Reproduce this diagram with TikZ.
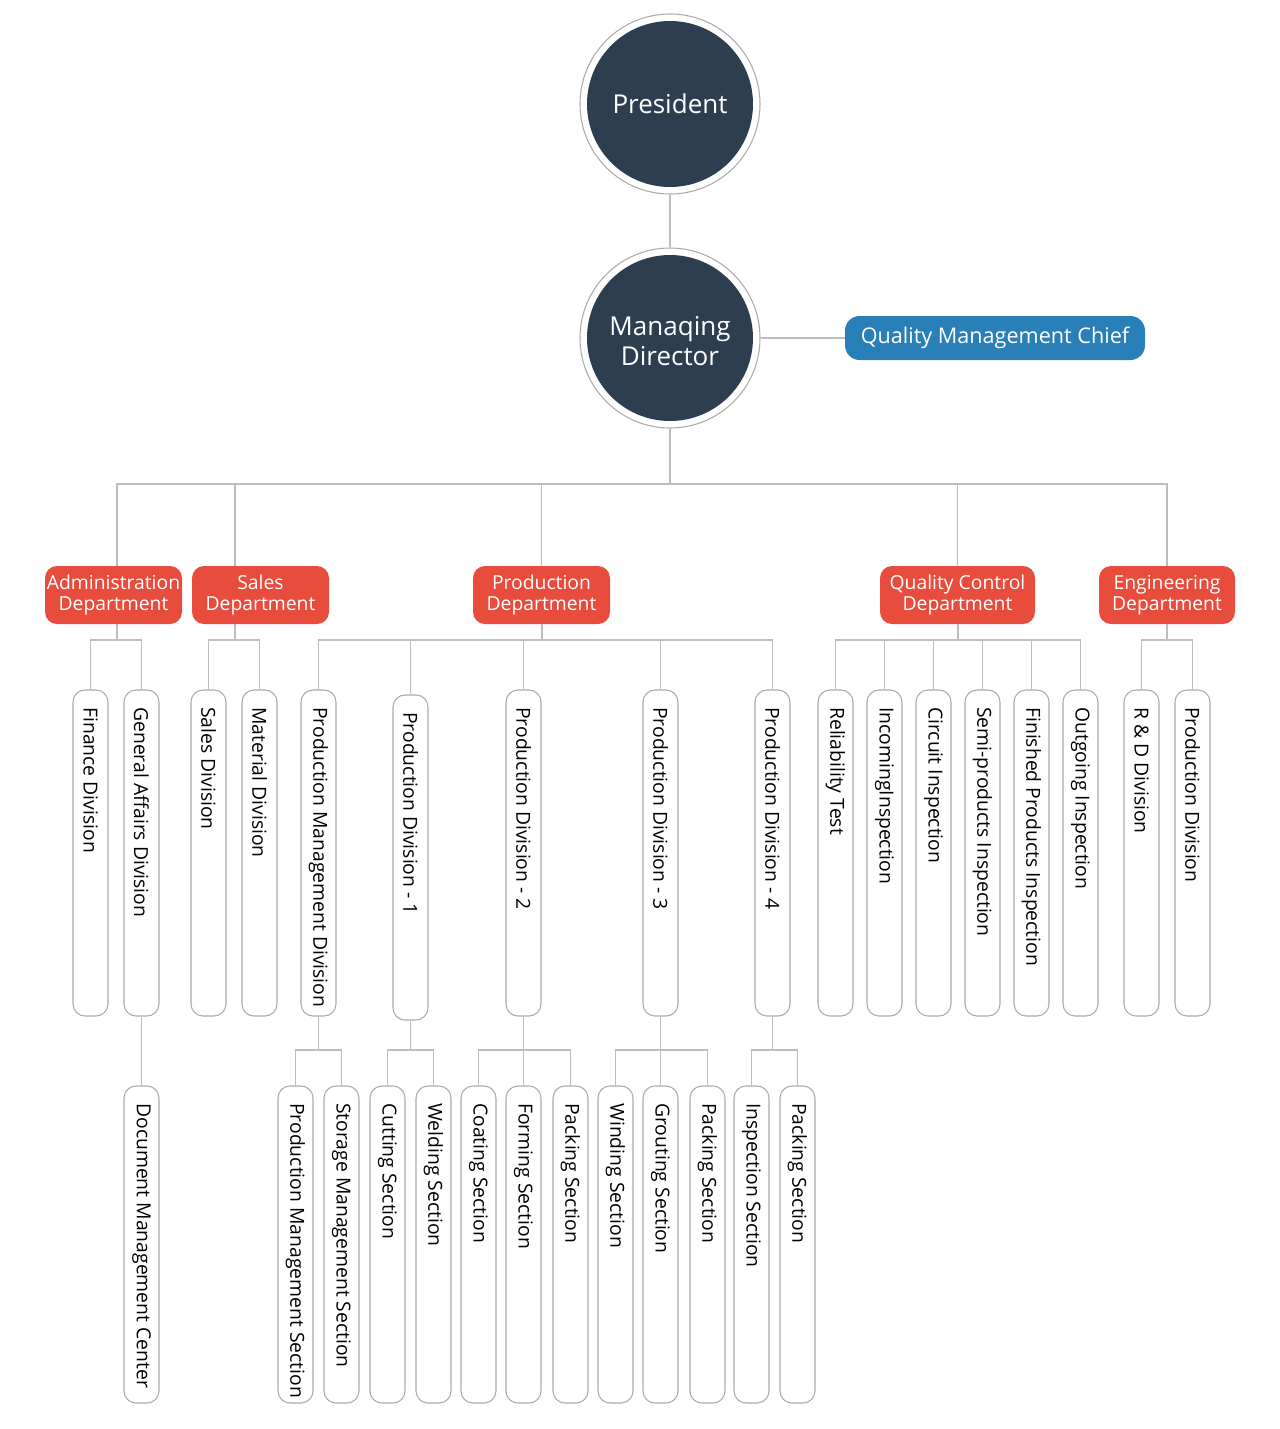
\documentclass[tikz,border=0pt]{standalone}
\usepackage{fontspec}
\setmainfont{Open Sans}
\usetikzlibrary{fit}
\definecolor{navy}{HTML}{2C3E50}
\definecolor{redd}{HTML}{E74C3C}
\definecolor{bluee}{HTML}{2980B9}
\definecolor{linegray}{HTML}{BDBDBD}
\definecolor{boxgray}{HTML}{ABABAB}
\newcommand\orgleaf[5]{% name, cx, top, bottom, text
  \node[leafbox, fit={(#2-17.5,#3) (#2+17.5,#4)}] (#1) {};
  \node[leaftext] at (#2,#3+17) {#5};
}
\begin{document}
\begin{tikzpicture}[x=0.75pt,y=-0.75pt,
  conn/.style={draw=linegray, line width=1.1pt},
  ring/.style={circle, draw=boxgray, line width=0.8pt, minimum size=135pt, inner sep=0},
  disc/.style={circle, fill=navy, minimum size=124.5pt, inner sep=0},
  disctext/.style={text=white, inner sep=0, align=center,
     font=\fontsize{19.5pt}{22.5pt}\selectfont},
  dept/.style={rectangle, rounded corners=9pt, fill=redd, text=white, inner sep=0, align=center,
     font=\fontsize{14.5pt}{15.8pt}\selectfont},
  chief/.style={rectangle, rounded corners=11pt, fill=bluee, text=white, inner sep=0,
     minimum width=225pt, minimum height=33pt, font=\fontsize{16.2pt}{18pt}\selectfont},
  leafbox/.style={rectangle, rounded corners=9pt, draw=boxgray, line width=0.8pt, inner sep=0},
  leaftext/.style={rotate=-90, anchor=west, inner sep=0, font=\fontsize{14.5pt}{16pt}\selectfont}
]
\useasboundingbox (0,0) rectangle (1280,1429);
% top
\node[ring] (pres) at (670,104) {};
\node[disc] (presd) at (pres) {};
\node[disctext] (prest) at (pres) {President};
\node[ring] (md) at (670,338) {};
\node[disc] (mdd) at (md) {};
\node[disctext] (mdt) at (670,341) {Manaqing\\Director};
\node[chief] (qmc) at (995,338) {Quality Management Chief};
\draw[conn] (pres.south) -- (md.north);
\draw[conn] (md.east) -- (qmc.west);
% departments
\node[dept, minimum width=102.75pt, minimum height=43.5pt] (adm) at (113.5,595) {Administration\\Department};
\node[dept, minimum width=102.75pt, minimum height=43.5pt] (sal) at (260.5,595) {Sales\\Department};
\node[dept, minimum width=102.75pt, minimum height=43.5pt] (pro) at (541.5,595) {Production\\Department};
\node[dept, minimum width=116.25pt, minimum height=43.5pt] (qcd) at (957.5,595) {Quality Control\\Department};
\node[dept, minimum width=102pt, minimum height=43.5pt] (eng) at (1167,595) {Engineering\\Department};
\coordinate (topbus) at (670,484);
\draw[conn] (md.south) -- (topbus);
\draw[conn] (adm.north -| 117,0) |- (topbus);
\draw[conn] (sal.north -| 235,0) |- (topbus);
\draw[conn] (pro.north) |- (topbus);
\draw[conn] (qcd.north) |- (topbus);
\draw[conn] (eng.north) |- (topbus);
% level 2
\orgleaf{fin}{90.5}{690}{1016}{Finance Division}
\orgleaf{gad}{141.5}{690}{1016}{General Affairs Division}
\orgleaf{sdv}{208.5}{690}{1016}{Sales Division}
\orgleaf{mat}{259.5}{690}{1016}{Material Division}
\orgleaf{pmd}{318.5}{690}{1016}{Production Management Division}
\orgleaf{pd1}{410.5}{695}{1020}{Production Division - 1}
\orgleaf{pd2}{523.5}{690}{1016}{Production Division - 2}
\orgleaf{pd3}{660.5}{690}{1016}{Production Division - 3}
\orgleaf{pd4}{772.5}{690}{1016}{Production Division - 4}
\orgleaf{rel}{835.5}{690}{1016}{Reliability Test}
\orgleaf{inc}{884.5}{690}{1016}{IncomingInspection}
\orgleaf{cir}{933.5}{690}{1016}{Circuit Inspection}
\orgleaf{sem}{982.5}{690}{1016}{Semi-products Inspection}
\orgleaf{fpi}{1031.5}{690}{1016}{Finished Products Inspection}
\orgleaf{out}{1080.5}{690}{1016}{Outgoing Inspection}
\orgleaf{rdd}{1141.5}{690}{1016}{R \& D Division}
\orgleaf{epd}{1192.5}{690}{1016}{Production Division}
\coordinate (busA) at (117,640);
\coordinate (busS) at (235,640);
\coordinate (busP) at (542,640);
\coordinate (busQ) at (958,640);
\coordinate (busE) at (1167,640);
\draw[conn] (adm.south -| busA) -- (busA);
\draw[conn] (sal.south -| busS) -- (busS);
\draw[conn] (pro.south -| busP) -- (busP);
\draw[conn] (qcd.south -| busQ) -- (busQ);
\draw[conn] (eng.south -| busE) -- (busE);
\foreach \n in {fin,gad}{\draw[conn] (\n.north) |- (busA);}
\foreach \n in {sdv,mat}{\draw[conn] (\n.north) |- (busS);}
\foreach \n in {pmd,pd1,pd2,pd3,pd4}{\draw[conn] (\n.north) |- (busP);}
\foreach \n in {rel,inc,cir,sem,fpi,out}{\draw[conn] (\n.north) |- (busQ);}
\foreach \n in {rdd,epd}{\draw[conn] (\n.north) |- (busE);}
% level 3
\orgleaf{dmc}{141.5}{1086}{1403}{Document Management Center}
\orgleaf{pms}{295.5}{1086}{1403}{Production Management Section}
\orgleaf{sms}{341.5}{1086}{1403}{Storage Management Section}
\orgleaf{cut}{387.5}{1086}{1403}{Cutting Section}
\orgleaf{wel}{433.5}{1086}{1403}{Welding Section}
\orgleaf{coa}{478.5}{1086}{1403}{Coating Section}
\orgleaf{frm}{523.5}{1086}{1403}{Forming Section}
\orgleaf{pk2}{570.5}{1086}{1403}{Packing Section}
\orgleaf{win}{615.5}{1086}{1403}{Winding Section}
\orgleaf{gro}{660.5}{1086}{1403}{Grouting Section}
\orgleaf{pk3}{707.5}{1086}{1403}{Packing Section}
\orgleaf{ins}{751.5}{1086}{1403}{Inspection Section}
\orgleaf{pk4}{797.5}{1086}{1403}{Packing Section}
\draw[conn] (gad.south) -- (dmc.north);
\coordinate (b1) at (318.5,1050);
\coordinate (b2) at (410.5,1050);
\coordinate (b3) at (523.5,1050);
\coordinate (b4) at (660.5,1050);
\coordinate (b5) at (772.5,1050);
\draw[conn] (pmd.south) -- (b1);
\draw[conn] (pd1.south) -- (b2);
\draw[conn] (pd2.south) -- (b3);
\draw[conn] (pd3.south) -- (b4);
\draw[conn] (pd4.south) -- (b5);
\foreach \n in {pms,sms}{\draw[conn] (\n.north) |- (b1);}
\foreach \n in {cut,wel}{\draw[conn] (\n.north) |- (b2);}
\foreach \n in {coa,frm,pk2}{\draw[conn] (\n.north) |- (b3);}
\foreach \n in {win,gro,pk3}{\draw[conn] (\n.north) |- (b4);}
\foreach \n in {ins,pk4}{\draw[conn] (\n.north) |- (b5);}
\end{tikzpicture}
\end{document}
